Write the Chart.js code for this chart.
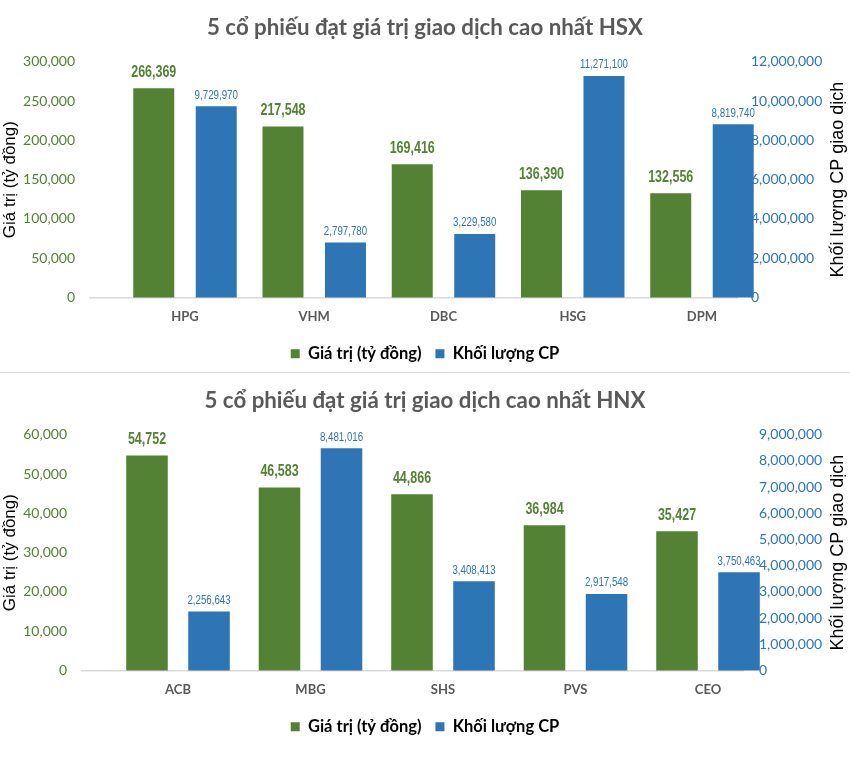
<!DOCTYPE html>
<html>
<head>
<meta charset="utf-8">
<script src="https://cdn.jsdelivr.net/npm/chart.js@4/dist/chart.umd.min.js"></script>
<style>
  html, body { margin: 0; padding: 0; background: #ffffff; }
  #wrap { width: 850px; height: 772px; position: relative; overflow: hidden; }
  canvas { display: block; }
  .sep { width: 850px; height: 1px; background: #d9d9d9; }
</style>
</head>
<body>
<div id="wrap">
  <canvas id="hsx" width="850" height="372"></canvas>
  <div class="sep"></div>
  <canvas id="hnx" width="850" height="399"></canvas>
</div>
<script>
// ---------- DATA ----------
const seriesNames = ['Giá trị (tỷ đồng)', 'Khối lượng CP'];

const hsxTitle = '5 cổ phiếu đạt giá trị giao dịch cao nhất HSX';
const hsxCategories = ['HPG', 'VHM', 'DBC', 'HSG', 'DPM'];
const hsxValue = [266369, 217548, 169416, 136390, 132556];
const hsxVolume = [9729970, 2797780, 3229580, 11271100, 8819740];
const hsxValueTicks = [0, 50000, 100000, 150000, 200000, 250000, 300000];
const hsxVolumeTicks = [0, 2000000, 4000000, 6000000, 8000000, 10000000, 12000000];

const hnxTitle = '5 cổ phiếu đạt giá trị giao dịch cao nhất HNX';
const hnxCategories = ['ACB', 'MBG', 'SHS', 'PVS', 'CEO'];
const hnxValue = [54752, 46583, 44866, 36984, 35427];
const hnxVolume = [2256643, 8481016, 3408413, 2917548, 3750463];
const hnxValueTicks = [0, 10000, 20000, 30000, 40000, 50000, 60000];
const hnxVolumeTicks = [0, 1000000, 2000000, 3000000, 4000000, 5000000, 6000000, 7000000, 8000000, 9000000];

const leftAxisTitle = 'Giá trị (tỷ đồng)';
const rightAxisTitle = 'Khối lượng CP giao dịch';

// ---------- STYLE ----------
const GREEN = '#548235';
const BLUE = '#2E75B6';
const CAL = 'Lato, "Open Sans", sans-serif';
const ARIAL = '"Liberation Sans", Arial, sans-serif';
const fmt = v => Number(v).toLocaleString('en-US');

const valueLabels = {
  id: 'valueLabels',
  afterDatasetsDraw(chart, args, opts) {
    const ctx = chart.ctx;
    chart.data.datasets.forEach((ds, di) => {
      const st = opts.styles[di];
      const meta = chart.getDatasetMeta(di);
      meta.data.forEach((el, i) => {
        ctx.save();
        ctx.font = st.font;
        ctx.fillStyle = st.color;
        ctx.textAlign = 'center';
        ctx.textBaseline = 'middle';
        ctx.translate(el.x, el.y - st.offset);
        ctx.scale(st.squeeze, 1);
        ctx.fillText(fmt(ds.data[i].y), 0, 0);
        ctx.restore();
      });
    });
  }
};

const rightTitle = {
  id: 'rightTitle',
  afterDraw(chart, args, opts) {
    const sc = chart.scales.y1;
    const ctx = chart.ctx;
    ctx.save();
    ctx.font = opts.font;
    ctx.fillStyle = opts.color;
    ctx.textAlign = 'center';
    ctx.textBaseline = 'middle';
    ctx.translate(sc.right - opts.inset, (sc.top + sc.bottom) / 2);
    ctx.rotate(-Math.PI / 2);
    ctx.fillText(opts.text, 0, 0);
    ctx.restore();
  }
};

function makeChart(id, cfg) {
  const toPts = arr => arr.map((v, i) => ({ x: i, y: v }));
  return new Chart(document.getElementById(id), {
    type: 'bar',
    data: {
      datasets: [
        { label: seriesNames[0], data: toPts(cfg.value), backgroundColor: GREEN, yAxisID: 'y',
          categoryPercentage: cfg.catPct, barPercentage: cfg.barPct, clip: false },
        { label: seriesNames[1], data: toPts(cfg.volume), backgroundColor: BLUE, yAxisID: 'y1',
          categoryPercentage: cfg.catPct, barPercentage: cfg.barPct, clip: false }
      ]
    },
    options: {
      responsive: false,
      animation: false,
      layout: { padding: { left: 0, right: 0, top: 0, bottom: cfg.bottomPad } },
      scales: {
        x: {
          type: 'linear',
          bounds: 'data',
          offset: false,
          min: cfg.xMin, max: cfg.xMax,
          afterBuildTicks: s => { s.ticks = cfg.categories.map((c, i) => ({ value: i })); },
          afterFit: s => { s.height = 34; },
          grid: { display: false, drawTicks: false, offset: false },
          border: { display: true, color: '#d9d9d9', width: 1.5 },
          ticks: {
            callback: v => cfg.categories[v],
            font: { family: CAL, size: 13, weight: 'bold' },
            color: '#595959',
            padding: 12,
            maxRotation: 0,
            autoSkip: false
          }
        },
        y: {
          position: 'left',
          min: cfg.valueTicks[0], max: cfg.valueTicks[cfg.valueTicks.length - 1],
          afterBuildTicks: s => { s.ticks = cfg.valueTicks.map(v => ({ value: v })); },
          afterFit: s => { s.width = cfg.leftW; },
          grid: { display: false, drawTicks: false },
          border: { display: false },
          ticks: {
            callback: v => fmt(v),
            font: { family: CAL, size: 14 },
            color: GREEN,
            padding: 15
          },
          title: {
            display: true,
            text: leftAxisTitle,
            font: { family: ARIAL, size: 17 },
            color: '#000000',
            padding: { top: 0, bottom: 0 }
          }
        },
        y1: {
          position: 'right',
          min: cfg.volumeTicks[0], max: cfg.volumeTicks[cfg.volumeTicks.length - 1],
          afterBuildTicks: s => { s.ticks = cfg.volumeTicks.map(v => ({ value: v })); },
          afterFit: s => { s.width = 850 - cfg.rightEdge; },
          grid: { display: false, drawTicks: false },
          border: { display: false },
          ticks: {
            callback: v => fmt(v),
            font: { family: CAL, size: 14 },
            color: BLUE,
            padding: cfg.rightPad
          }
        }
      },
      plugins: {
        title: {
          display: true,
          text: cfg.title,
          font: { family: CAL, size: 22.3, weight: 'bold' },
          color: '#595959',
          padding: { top: 14, bottom: 21 }
        },
        legend: {
          display: true,
          position: 'bottom',
          labels: {
            boxWidth: 9,
            boxHeight: 9,
            padding: 14,
            color: '#000000',
            font: { family: CAL, size: 16.5, weight: 'bold' }
          }
        },
        tooltip: { enabled: false },
        valueLabels: {
          styles: [
            { font: 'bold 16px ' + ARIAL, color: GREEN, offset: 16, squeeze: 0.78 },
            { font: '12px ' + ARIAL, color: BLUE, offset: 11, squeeze: 0.81 }
          ]
        },
        rightTitle: {
          text: rightAxisTitle,
          font: '18px ' + ARIAL,
          color: '#000000',
          inset: 12
        }
      }
    },
    plugins: [valueLabels, rightTitle]
  });
}

makeChart('hsx', {
  title: hsxTitle, categories: hsxCategories, value: hsxValue, volume: hsxVolume,
  valueTicks: hsxValueTicks, volumeTicks: hsxVolumeTicks,
  xMin: -0.735, xMax: 4.271, catPct: 0.967, barPct: 0.656,
  leftW: 90, rightEdge: 737, rightPad: 14, bottomPad: 0
});

makeChart('hnx', {
  title: hnxTitle, categories: hnxCategories, value: hnxValue, volume: hnxVolume,
  valueTicks: hnxValueTicks, volumeTicks: hnxVolumeTicks,
  xMin: -0.7245, xMax: 4.264, catPct: 0.936, barPct: 0.67,
  leftW: 82, rightEdge: 743, rightPad: 16, bottomPad: 27
});
</script>
</body>
</html>
